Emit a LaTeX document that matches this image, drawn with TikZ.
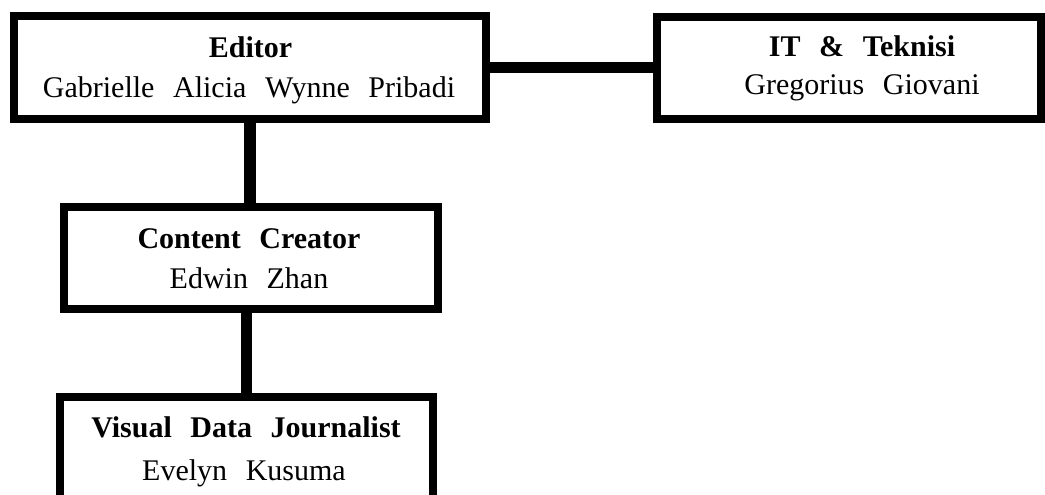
\documentclass[tikz,border=0pt]{standalone}
\usepackage{fontspec}
\setmainfont{Liberation Serif}
\newcommand\wordsp{\spaceskip=0.62em\relax}
\begin{document}
\begin{tikzpicture}[x=1pt,y=-1pt,
  box/.style={draw=black, line width=8pt, fill=white, inner sep=0pt},
  conn/.style={line width=11.5pt, draw=black},
  txt/.style={anchor=base, inner sep=0pt, font=\fontsize{30}{36}\selectfont},
  role/.style={anchor=base, inner sep=0pt, font=\fontsize{30}{36}\selectfont\bfseries}]
\useasboundingbox (0,0) rectangle (1045,495);
\clip (0,0) rectangle (1045,495);
\fill[white] (0,0) rectangle (1045,495);
% boxes
\node[box, minimum width=472pt, minimum height=103pt] (ed) at (250,67.5) {};
\node[box, minimum width=384pt, minimum height=102pt] (it) at (849,68) {};
\node[box, minimum width=374pt, minimum height=102pt] (cc) at (251,258) {};
\node[box, minimum width=373pt, minimum height=102pt] (vj) at (246.5,448) {};
% connectors
\draw[conn] (ed.east) -- (ed.east -| it.west);
\draw[conn] (ed.south) -- (ed.south |- cc.north);
\draw[conn] (cc.south -| vj.north) -- (vj.north);
% texts
\node[role] (edr) at (250.5,58) {\wordsp Editor};
\node[txt] (edn) at (249,97) {\wordsp Gabrielle Alicia Wynne Pribadi};
\node[role] (itr) at (862,57) {\wordsp IT \& Teknisi};
\node[txt] (itn) at (862,95) {\wordsp Gregorius Giovani};
\node[role] (ccr) at (249,248) {\wordsp Content Creator};
\node[txt] (ccn) at (249,288) {\wordsp Edwin Zhan};
\node[role] (vjr) at (246,437) {\wordsp Visual Data Journalist};
\node[txt] (vjn) at (244,480) {\wordsp Evelyn Kusuma};
\end{tikzpicture}
\end{document}
